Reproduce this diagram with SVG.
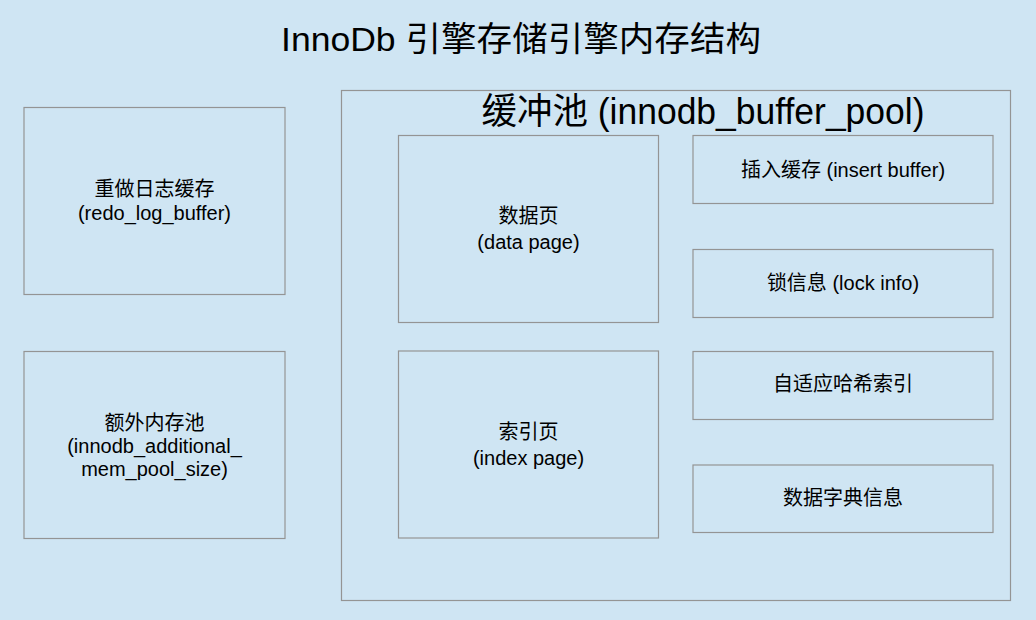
<svg xmlns="http://www.w3.org/2000/svg" width="1036" height="620" viewBox="0 0 1036 620">
<style>
.box{fill:none;stroke:#949494;stroke-width:1.2}
text{font-family:"Liberation Sans","Noto Sans CJK SC",sans-serif;fill:#000;text-anchor:middle}
.t{font-size:20px}
</style>
<rect width="1036" height="620" fill="#cfe5f3"/>
<text x="521" y="51" font-size="34" textLength="480" lengthAdjust="spacingAndGlyphs">InnoDb 引擎存储引擎内存结构</text>
<g id="buffer_pool">
<rect class="box" x="341.5" y="90.5" width="669" height="510"/>
<text x="703" y="124" font-size="36" textLength="443" lengthAdjust="spacingAndGlyphs">缓冲池 (innodb_buffer_pool)</text>
</g>
<g id="redo_log_buffer">
<rect class="box" x="24" y="107.5" width="261" height="187"/>
<text class="t" x="154.5" y="196">重做日志缓存</text>
<text class="t" x="154.5" y="220">(redo_log_buffer)</text>
</g>
<g id="additional_mem_pool">
<rect class="box" x="24" y="351.5" width="261" height="187"/>
<text class="t" x="154.5" y="430">额外内存池</text>
<text class="t" x="154.5" y="453">(innodb_additional_</text>
<text class="t" x="154.5" y="476">mem_pool_size)</text>
</g>
<g id="data_page">
<rect class="box" x="398.5" y="135.5" width="260" height="187"/>
<text class="t" x="528.5" y="223">数据页</text>
<text class="t" x="528.5" y="249">(data page)</text>
</g>
<g id="index_page">
<rect class="box" x="398.5" y="351" width="260" height="187"/>
<text class="t" x="528.5" y="439">索引页</text>
<text class="t" x="528.5" y="465">(index page)</text>
</g>
<g id="insert_buffer">
<rect class="box" x="693" y="135.5" width="300" height="68"/>
<text class="t" x="843" y="177">插入缓存 (insert buffer)</text>
</g>
<g id="lock_info">
<rect class="box" x="693" y="249.5" width="300" height="68"/>
<text class="t" x="843" y="290">锁信息 (lock info)</text>
</g>
<g id="adaptive_hash">
<rect class="box" x="693" y="351.5" width="300" height="68"/>
<text class="t" x="843" y="391">自适应哈希索引</text>
</g>
<g id="data_dict">
<rect class="box" x="693" y="465" width="300" height="67.5"/>
<text class="t" x="843" y="505">数据字典信息</text>
</g>
<g id="connectors"/>
</svg>
